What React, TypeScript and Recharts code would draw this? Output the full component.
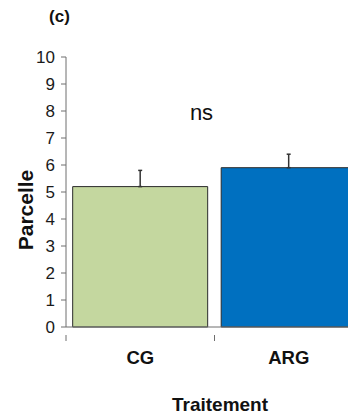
import { Bar, BarChart, ErrorBar, Label, XAxis, YAxis } from 'recharts';

const categories = ['CG', 'ARG'];
const values = [5.2, 5.9];
const errors = [0.6, 0.5];
const barColors = ['#c4d79f', '#0070c0'];
const yTicks = [0, 1, 2, 3, 4, 5, 6, 7, 8, 9, 10];

const data = categories.map((name, i) => ({
  name,
  value: values[i],
  err: [0, errors[i]],
  fill: barColors[i],
}));

const FONT = '"Liberation Sans", Arial, sans-serif';
const AXIS = '#6e6e6e';

function CategoryTick(props: any) {
  const { x, y, payload } = props;
  const left = x - (payload.offset ?? 0);
  return (
    <g>
      <line x1={left} y1={y} x2={left} y2={y + 6} stroke={AXIS} strokeWidth={1} />
      <text x={x} y={y + 29} textAnchor="middle" fontFamily={FONT} fontSize={18.5} fontWeight="bold" fill="#111">
        {payload.value}
      </text>
    </g>
  );
}

export default function App() {
  return (
    <div style={{ position: 'absolute', left: 0, top: 0, width: 348, height: 415, overflow: 'hidden', background: '#fff' }}>
      <BarChart
        width={380}
        height={415}
        data={data}
        margin={{ top: 57, right: 17, bottom: 0, left: 0 }}
        barCategoryGap="4.5%"
      >
        <text x={59.5} y={22} textAnchor="middle" fontFamily={FONT} fontSize={17} fontWeight="bold" fill="#111">
          (c)
        </text>
        <text x={201.5} y={120} textAnchor="middle" fontFamily={FONT} fontSize={22} fill="#111">
          ns
        </text>
        <XAxis
          dataKey="name"
          height={88}
          axisLine={{ stroke: AXIS }}
          tickLine={false}
          tick={<CategoryTick />}
          interval={0}
        >
          <Label
            content={() => (
              <text x={220} y={411} textAnchor="middle" fontFamily={FONT} fontSize={19} fontWeight="bold" fill="#111">
                Traitement
              </text>
            )}
          />
        </XAxis>
        <YAxis
          width={66}
          domain={[0, 10]}
          ticks={yTicks}
          interval={0}
          axisLine={{ stroke: AXIS }}
          tickLine={{ stroke: AXIS }}
          tickSize={5}
          tickMargin={6}
          tick={{ fontFamily: FONT, fontSize: 17, fill: '#1a1a1a' }}
        >
          <Label
            content={() => (
              <text
                x={25}
                y={210}
                transform="rotate(-90, 25, 210)"
                textAnchor="middle"
                dominantBaseline="central"
                fontFamily={FONT}
                fontSize={21}
                fontWeight="bold"
                fill="#111"
              >
                Parcelle
              </text>
            )}
          />
        </YAxis>
        <Bar dataKey="value" stroke="#2b2b2b" strokeWidth={1} isAnimationActive={false}>
          <ErrorBar dataKey="err" direction="y" width={2} stroke="#333" strokeWidth={1.5} isAnimationActive={false} />
        </Bar>
      </BarChart>
    </div>
  );
}
